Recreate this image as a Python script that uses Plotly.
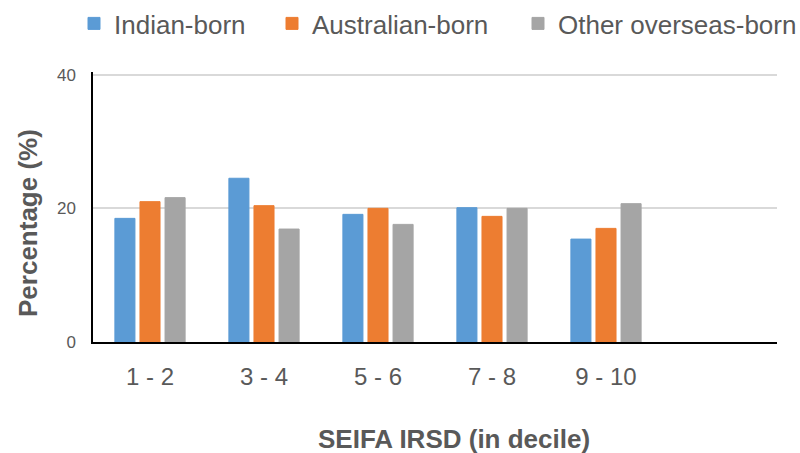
import plotly.graph_objects as go

# SEIFA IRSD decile groups and share of each birthplace group (%)
deciles = ["1 - 2", "3 - 4", "5 - 6", "7 - 8", "9 - 10"]
indian_born = [18.5, 24.5, 19.1, 20.1, 15.4]
australian_born = [21.0, 20.4, 20.0, 18.8, 17.0]
other_overseas_born = [21.6, 16.9, 17.6, 20.0, 20.7]

series = [
    ("Indian-born", indian_born, "#5B9BD5"),
    ("Australian-born", australian_born, "#ED7D31"),
    ("Other overseas-born", other_overseas_born, "#A5A5A5"),
]

FONT = "Liberation Sans, Arial, sans-serif"
GREY_TEXT = "#595959"

# each series gets its own one-entry legend so the entries can sit in a row
legend_ids = ["legend", "legend2", "legend3"]
legend_left_px = [74, 272, 518]

fig = go.Figure()
for (name, values, color), lid in zip(series, legend_ids):
    fig.add_trace(go.Bar(
        name=name,
        x=deciles,
        y=values,
        legend=lid,
        marker=dict(color=color, line=dict(color=color, width=1)),
    ))

fig.add_annotation(
    text="<b>SEIFA IRSD (in decile)</b>", xref="paper", yref="paper",
    x=(454 - 93) / 684, y=(342 - 439) / 270, xanchor="center", yanchor="middle",
    showarrow=False, font=dict(family=FONT, size=26, color=GREY_TEXT),
)
fig.add_annotation(
    text="<b>Percentage (%)</b>", xref="paper", yref="paper",
    x=(28 - 93) / 684, y=(342 - 223) / 270, xanchor="center", yanchor="middle",
    textangle=-90, showarrow=False,
    font=dict(family=FONT, size=26, color=GREY_TEXT),
)

legend_style = dict(
    orientation="h", xref="container", yref="container",
    y=1.0, xanchor="left", yanchor="top",
    font=dict(family=FONT, size=26, color=GREY_TEXT),
)

fig.update_layout(
    width=800, height=453,
    margin=dict(l=93, r=23, t=72, b=111),
    paper_bgcolor="white", plot_bgcolor="white",
    barmode="group", bargap=0.34, bargroupgap=0.2,
    font=dict(family=FONT, color=GREY_TEXT),
    showlegend=True,
    **{lid: dict(legend_style, x=px / 800) for lid, px in zip(legend_ids, legend_left_px)},
)

fig.update_xaxes(
    type="category", range=[-0.5, 5.5],
    showline=True, linecolor="black", linewidth=2,
    showgrid=False, ticks="", ticklabelstandoff=12, fixedrange=True,
    tickfont=dict(family=FONT, size=24, color=GREY_TEXT),
)
fig.update_yaxes(
    range=[0, 40.4], tickvals=[0, 20, 40], showline=True, linecolor="black",
    linewidth=1.5, showgrid=True, gridcolor="#D9D9D9", gridwidth=1.5,
    zeroline=False, ticks="", ticklabelstandoff=12,
    tickfont=dict(family=FONT, size=17, color=GREY_TEXT),
)

fig.write_html("out.html")
